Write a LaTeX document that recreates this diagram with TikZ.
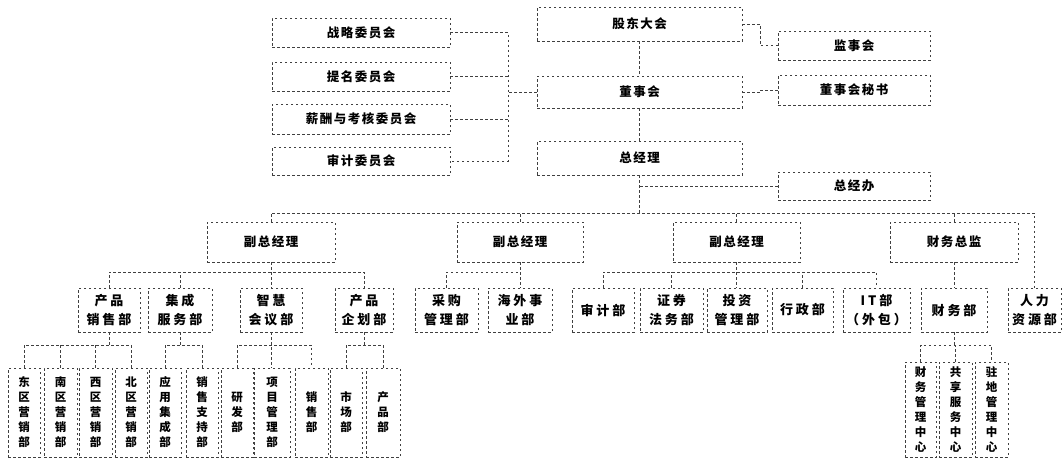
\documentclass[tikz,border=0pt]{standalone}
\usepackage{fontspec}
\setmainfont{Noto Sans CJK SC}
\newfontfamily\cjk{Noto Sans CJK SC}[LetterSpace=12]
\newfontfamily\cjkw{Noto Sans CJK SC}[LetterSpace=22]
\newfontfamily\cjkv{Noto Sans CJK SC}
\tikzset{
  box/.style={draw=black!75, line width=0.6pt, dash pattern=on 2.5pt off 2.5pt,
    inner sep=0pt, align=center, font=\cjk\bfseries\fontsize{12.5}{19}\selectfont},
  mbox/.style={box, font=\cjkw\bfseries\fontsize{13}{19}\selectfont},
  vbox/.style={box, font=\cjkv\bfseries\fontsize{11.5}{15}\selectfont},
  conn/.style={draw=black!75, line width=0.6pt, dash pattern=on 2.5pt off 2.5pt},
}
\newcommand\obox[7][box]{\node[#1,minimum width={(#5-#3)*1pt},minimum height={(#6-#4)*1pt}] (#2) at ({(#3+#5)/2},{(#4+#6)/2}) {#7};}
\begin{document}
\begin{tikzpicture}[x=1pt,y=-1pt]
\useasboundingbox (0,0) rectangle (1062,461);
% top column
\obox{gd}{537}{7}{742}{41}{股东大会}
\obox{dsh}{537}{76}{742}{108}{董事会}
\obox{zjl}{537}{141}{742}{175}{总经理}
\obox{jsh}{778}{31}{930}{60}{监事会}
\obox{ms}{778}{75}{930}{105}{董事会秘书}
\obox{zjb}{778}{172}{930}{200}{总经办}
% committees
\obox{zl}{272}{18}{450}{47}{战略委员会}
\obox{tm}{272}{62}{450}{91}{提名委员会}
\obox{xc}{272}{104}{450}{134}{薪酬与考核委员会}
\obox{sj}{272}{147}{450}{175}{审计委员会}
% level 2
\obox{fz1}{207}{222}{335}{262}{副总经理}
\obox{fz2}{457}{222}{583}{262}{副总经理}
\obox{fz3}{673}{222}{800}{262}{副总经理}
\obox{cwzj}{890}{222}{1018}{262}{财务总监}
% level 3
\obox[mbox]{cpxs}{78}{288}{140}{332}{产品\\销售部}
\obox[mbox]{jc}{148}{288}{212}{332}{集成\\服务部}
\obox[mbox]{zh}{240}{288}{302}{332}{智慧\\会议部}
\obox[mbox]{cpqh}{335}{288}{393}{332}{产品\\企划部}
\obox[mbox]{cg}{415}{288}{478}{332}{采购\\管理部}
\obox[mbox]{hw}{488}{288}{552}{332}{海外事\\业部}
\obox[mbox]{sjb}{572}{288}{634}{332}{审计部}
\obox[mbox]{zq}{640}{288}{703}{332}{证券\\法务部}
\obox[mbox]{tz}{707}{288}{767}{332}{投资\\管理部}
\obox[mbox]{xz}{772}{288}{833}{332}{行政部}
\obox[mbox]{it}{843}{288}{910}{332}{IT部\\（外包）}
\obox[mbox]{cwb}{921}{288}{987}{332}{财务部}
\obox[mbox]{rl}{1008}{288}{1061}{332}{人力\\资源部}
% level 4
\obox[vbox]{dq}{8}{368}{40}{457}{东\\区\\营\\销\\部}
\obox[vbox]{nq}{44}{368}{77}{457}{南\\区\\营\\销\\部}
\obox[vbox]{xq}{79}{368}{112}{457}{西\\区\\营\\销\\部}
\obox[vbox]{bq}{115}{368}{147}{457}{北\\区\\营\\销\\部}
\obox[vbox]{yy}{149}{368}{181}{457}{应\\用\\集\\成\\部}
\obox[vbox]{zc}{186}{368}{218}{457}{销\\售\\支\\持\\部}
\obox[vbox]{yf}{221}{368}{253}{457}{研\\发\\部}
\obox[vbox]{xm}{254}{368}{290}{457}{项\\目\\管\\理\\部}
\obox[vbox]{xs}{295}{368}{328}{457}{销\\售\\部}
\obox[vbox]{sc}{330}{368}{362}{457}{市\\场\\部}
\obox[vbox]{cp}{366}{368}{400}{457}{产\\品\\部}
\obox[vbox]{cwgl}{905}{362}{936}{457}{财\\务\\管\\理\\中\\心}
\obox[vbox]{gx}{939}{362}{972}{457}{共\\享\\服\\务\\中\\心}
\obox[vbox]{zd}{975}{362}{1008}{457}{驻\\地\\管\\理\\中\\心}
% helper coordinates
\coordinate (bus) at (0,213);
\coordinate (bus3) at (0,272);
\coordinate (bus4) at (0,345);
\coordinate (brk) at (508,0);
\coordinate (jr) at (760,0);
% top connectors
\draw[conn] (gd) -- (dsh);
\draw[conn] (dsh) -- (zjl);
\draw[conn] (gd.east) -- (gd.east -| jr) |- (jsh.west);
\draw[conn] (dsh.east) -- (dsh.east -| jr) |- (ms.west);
\draw[conn] (zl.east) -- (zl.east -| brk) -- (sj.east -| brk) -- (sj.east);
\draw[conn] (tm.east) -- (tm.east -| brk);
\draw[conn] (xc.east) -- (xc.east -| brk);
\draw[conn] (dsh.west) -- (dsh.west -| brk);
\draw[conn] (zjl.south) -- (zjl.south |- bus);
\draw[conn] (zjb.west) -- (zjb.west -| zjl.south);
% main bus
\draw[conn] (fz1.north) |- (bus -| rl.north) -- (rl.north);
\draw[conn] (fz2.north) -- (fz2.north |- bus);
\draw[conn] (fz3.north) -- (fz3.north |- bus);
\draw[conn] (cwzj.north) -- (cwzj.north |- bus);
% level 3 buses
\draw[conn] (fz1.south) -- (fz1.south |- zh.north);
\draw[conn] (cpxs.north) |- (bus3 -| cpqh.north) -- (cpqh.north);
\draw[conn] (jc.north) -- (jc.north |- bus3);
\draw[conn] (fz2.south) -- (fz2.south |- hw.north);
\draw[conn] (cg.north) |- (bus3 -| hw.north);
\draw[conn] (fz3.south) -- (fz3.south |- tz.north);
\draw[conn] (sjb.north) |- (bus3 -| it.north) -- (it.north);
\draw[conn] (zq.north) -- (zq.north |- bus3);
\draw[conn] (xz.north) -- (xz.north |- bus3);
\draw[conn] (cwzj.south) -- (cwzj.south |- cwb.north);
% level 4 buses
\draw[conn] (cpxs.south) -- (cpxs.south |- bus4);
\draw[conn] (dq.north) |- (bus4 -| bq.north) -- (bq.north);
\draw[conn] (nq.north) -- (nq.north |- bus4);
\draw[conn] (xq.north) -- (xq.north |- bus4);
\draw[conn] (jc.south) -- (jc.south |- bus4);
\draw[conn] (yy.north) |- (bus4 -| zc.north) -- (zc.north);
\draw[conn] (zh.south) -- (zh.south |- xm.north);
\draw[conn] (yf.north) |- (bus4 -| xs.north) -- (xs.north);
\draw[conn] (cpqh.south) -- (cpqh.south |- bus4);
\draw[conn] (sc.north) |- (bus4 -| cp.north) -- (cp.north);
\draw[conn] (cwb.south) -- (cwb.south |- bus4);
\draw[conn] (cwgl.north) |- (bus4 -| zd.north) -- (zd.north);
\draw[conn] (gx.north) -- (gx.north |- bus4);
\end{tikzpicture}
\end{document}
